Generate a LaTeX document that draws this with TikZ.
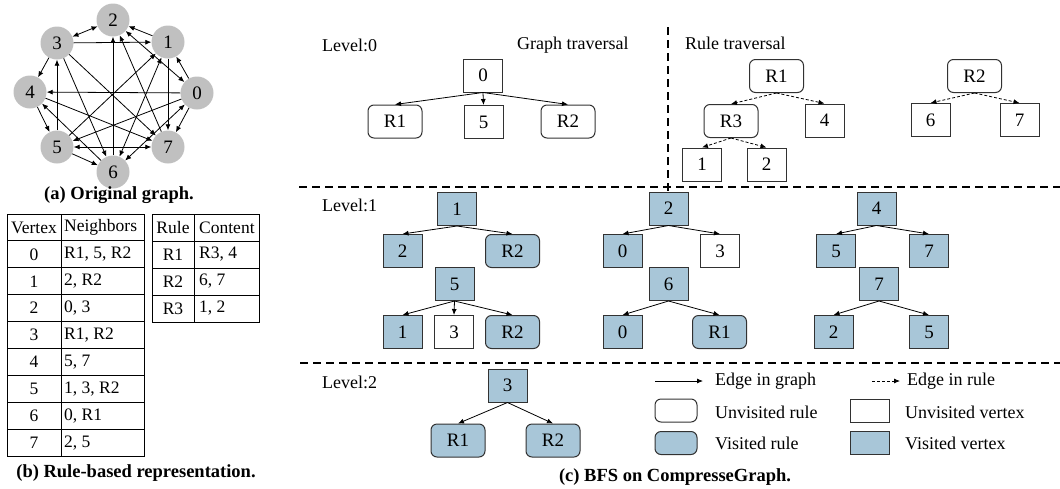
\documentclass[tikz,border=0pt]{standalone}
\usepackage{fontspec}
\setmainfont{Liberation Serif}
\usetikzlibrary{arrows.meta}
\definecolor{gfill}{RGB}{192,192,192}
\definecolor{visfill}{RGB}{168,198,216}
\definecolor{bord}{RGB}{50,50,50}
\tikzset{
  gv/.style={circle, fill=gfill, minimum size=33pt, inner sep=0pt, font=\fontsize{19}{19}\selectfont},
  gedge/.style={-{Latex[length=6pt,width=5pt]}, line width=0.8pt},
  vbox/.style={draw=bord, line width=1pt, minimum width=39pt, minimum height=33pt, inner sep=0pt, font=\fontsize{19}{19}\selectfont},
  rbox/.style={vbox, rounded corners=6pt, minimum width=54pt},
  vis/.style={fill=visfill},
  tedge/.style={-{Latex[length=6pt,width=5pt]}, line width=0.8pt},
  redge/.style={tedge, dash pattern=on 3pt off 2pt},
  sepline/.style={line width=1.7pt, dash pattern=on 8pt off 5pt},
  lbl/.style={anchor=west, inner sep=0pt},
  captext/.style={font=\fontsize{18.5}{21}\selectfont\bfseries, inner sep=0pt},
  cell/.style={inner sep=0pt, font=\fontsize{17.5}{20}\selectfont},
}
\begin{document}
\begin{tikzpicture}[x=1pt, y=-1pt, font=\fontsize{18}{21}\selectfont]
\useasboundingbox (0,0) rectangle (1060,488);

% ---------- (a) original graph ----------
\node[gv] (g0) at (197,93) {0};
\node[gv] (g1) at (168,42) {1};
\node[gv] (g2) at (113,20) {2};
\node[gv] (g3) at (57,43) {3};
\node[gv] (g4) at (30,92) {4};
\node[gv] (g5) at (57,147) {5};
\node[gv] (g6) at (113,172) {6};
\node[gv] (g7) at (168,147) {7};
\foreach \a/\b in {0/1,0/4,0/5,0/7,1/2,1/7,3/1,3/4,3/6,3/7,4/5,4/7,5/1,5/3,5/6,6/2,6/4,7/2}
  \draw[gedge] (g\a) -- (g\b);
\foreach \a/\b in {0/2,0/6,1/6,2/3,5/7}
  \draw[gedge, {Latex[length=6pt,width=5pt]}-{Latex[length=6pt,width=5pt]}] (g\a) -- (g\b);
\node[captext] (capa) at (119,195) {(a) Original graph.};

% ---------- (b) rule-based representation ----------
\draw[line width=0.9pt] (7,214) rectangle (144,456);
\draw[line width=0.9pt] (61,214) -- (61,456);
\foreach \i in {1,...,8} \draw[line width=0.9pt] (7,{214+26.9*\i}) -- (144,{214+26.9*\i});
\node[cell] (vh) at (34,227.5) {Vertex};
\node[cell, anchor=west] (nh) at (64,227.5) {Neighbors};
\foreach \v/\n [count=\r] in {0/{R1, 5, R2},1/{2, R2},2/{0, 3},3/{R1, R2},4/{5, 7},5/{1, 3, R2},6/{0, R1},7/{2, 5}} {
  \node[cell] (v\v) at (34,{214+26.9*(\r+0.5)}) {\v};
  \node[cell, anchor=west] (n\v) at (64,{214+26.9*(\r+0.5)}) {\n};
}
\draw[line width=0.9pt] (152,214) rectangle (259,322);
\draw[line width=0.9pt] (194,214) -- (194,322);
\foreach \i in {1,2,3} \draw[line width=0.9pt] (152,{214+27*\i}) -- (259,{214+27*\i});
\node[cell] (rh) at (173,227.5) {Rule};
\node[cell, anchor=west] (ch) at (199,227.5) {Content};
\foreach \k/\c [count=\r] in {R1/{R3, 4},R2/{6, 7},R3/{1, 2}} {
  \node[cell] (r\k) at (173,{214+27*(\r+0.5)}) {\k};
  \node[cell, anchor=west] (c\k) at (199,{214+27*(\r+0.5)}) {\c};
}
\node[captext] (capb) at (136,473) {(b) Rule-based representation.};

% ---------- (c) BFS on CompresseGraph ----------
\draw[sepline] (668,27) -- (668,191);
\draw[sepline] (299,187) -- (1060,187);
\draw[sepline] (300,363) -- (1060,363);

% level 0, graph traversal
\node[lbl] (lv0) at (322,45) {Level:0};
\node[lbl] (gt) at (517,45) {Graph traversal};
\node[vbox] (a0) at (483,75.5) {0};
\node[rbox] (aR1) at (395,121.5) {R1};
\node[vbox] (a5) at (483.5,122) {5};
\node[rbox] (aR2) at (568,121.5) {R2};
\foreach \c in {aR1,a5,aR2} \draw[tedge] (a0.south) -- (\c.north);

% level 0, rule traversal
\node[lbl] (rt) at (685,43) {Rule traversal};
\node[rbox] (bR1) at (776.5,76) {R1};
\node[rbox] (bR3) at (731,121) {R3};
\node[vbox] (b4) at (824.5,120.5) {4};
\node[vbox] (b1) at (702,164.5) {1};
\node[vbox] (b2) at (766.5,164.5) {2};
\node[rbox] (bR2) at (974.5,76) {R2};
\node[vbox] (b6) at (930.5,120) {6};
\node[vbox] (b7) at (1019.5,120) {7};
\draw[redge] (bR1.south) -- (bR3.north);
\draw[redge] (bR1.south) -- (b4.north);
\draw[redge] (bR3.south) -- (b1.north);
\draw[redge] (bR3.south) -- (b2.north);
\draw[redge] (bR2.south) -- (b6.north);
\draw[redge] (bR2.south) -- (b7.north);

% level 1
\node[lbl] (lv1) at (322,205) {Level:1};
\node[vbox, vis] (c1) at (457,209) {1};
\node[vbox, vis] (c1a) at (402.5,251) {2};
\node[rbox, vis] (c1b) at (512.5,251) {R2};
\draw[tedge] (c1.south) -- (c1a.north);
\draw[tedge] (c1.south) -- (c1b.north);

\node[vbox, vis] (c5) at (454.5,284) {5};
\node[vbox, vis] (c5a) at (402.5,332) {1};
\node[vbox] (c5b) at (454,332) {3};
\node[rbox, vis] (c5c) at (512.5,332) {R2};
\draw[tedge] (c5.south) -- (c5a.north);
\draw[tedge] (c5.south) -- (c5b.north);
\draw[tedge] (c5.south) -- (c5c.north);

\node[vbox, vis] (c2) at (668.5,208.5) {2};
\node[vbox, vis] (c2a) at (622.5,251) {0};
\node[vbox] (c2b) at (720,251) {3};
\draw[tedge] (c2.south) -- (c2a.north);
\draw[tedge] (c2.south) -- (c2b.north);

\node[vbox, vis] (c6) at (668.5,284) {6};
\node[vbox, vis] (c6a) at (622.5,332) {0};
\node[rbox, vis] (c6b) at (719.5,332) {R1};
\draw[tedge] (c6.south) -- (c6a.north);
\draw[tedge] (c6.south) -- (c6b.north);

\node[vbox, vis] (c4) at (876.5,208.5) {4};
\node[vbox, vis] (c4a) at (836,251) {5};
\node[vbox, vis] (c4b) at (929,251) {7};
\draw[tedge] (c4.south) -- (c4a.north);
\draw[tedge] (c4.south) -- (c4b.north);

\node[vbox, vis] (c7) at (879,284) {7};
\node[vbox, vis] (c7a) at (833.5,332) {2};
\node[vbox, vis] (c7b) at (929,332) {5};
\draw[tedge] (c7.south) -- (c7a.north);
\draw[tedge] (c7.south) -- (c7b.north);

% level 2
\node[lbl] (lv2) at (322,382) {Level:2};
\node[vbox, vis] (d3) at (507.5,385.5) {3};
\node[rbox, vis] (dR1) at (458,440.5) {R1};
\node[rbox, vis] (dR2) at (553,440.5) {R2};
\draw[tedge] (d3.south) -- (dR1.north);
\draw[tedge] (d3.south) -- (dR2.north);

% legend
\coordinate (ls0) at (655,381);
\coordinate (ls1) at (703,381);
\coordinate (ld0) at (872,381);
\coordinate (ld1) at (900,381);
\draw[tedge] (ls0) -- (ls1);
\draw[redge] (ld0) -- (ld1);
\node[lbl] (lt1) at (715,381) {Edge in graph};
\node[lbl] (lt2) at (907,381) {Edge in rule};
\node[rbox, minimum width=42pt, minimum height=23pt] (lk1) at (676,410.5) {};
\node[lbl] (lt3) at (715,412) {Unvisited rule};
\node[vbox, minimum height=23pt] (lk2) at (869.5,410.5) {};
\node[lbl] (lt4) at (905,412) {Unvisited vertex};
\node[rbox, vis, minimum width=42pt, minimum height=23pt] (lk3) at (676,443) {};
\node[lbl] (lt5) at (715,443) {Visited rule};
\node[vbox, vis, minimum height=23pt] (lk4) at (869.5,443) {};
\node[lbl] (lt6) at (905,443) {Visited vertex};

\node[captext] (capc) at (675,477) {(c) BFS on CompresseGraph.};
\end{tikzpicture}
\end{document}
